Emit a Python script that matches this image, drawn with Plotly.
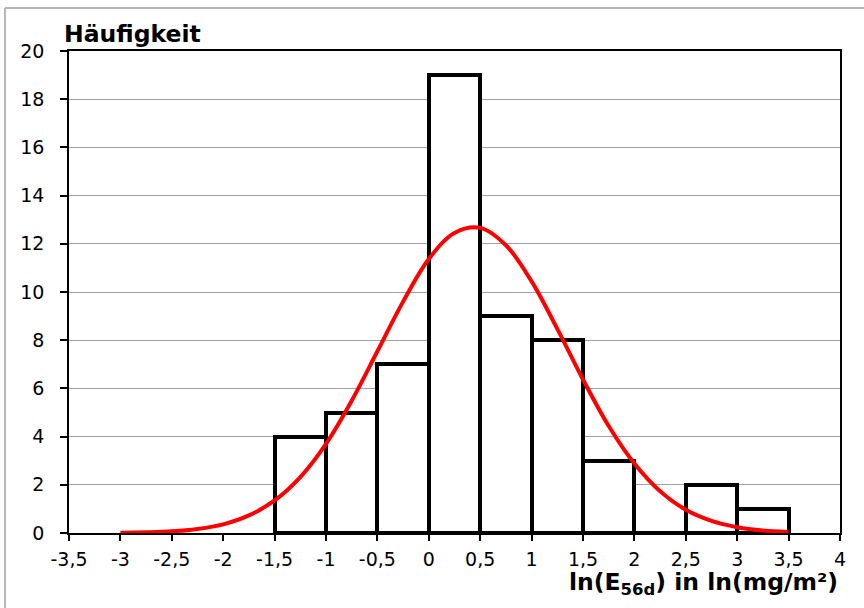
import plotly.graph_objects as go

# Histogram data
bin_centers = [-1.25, -0.75, -0.25, 0.25, 0.75, 1.25, 1.75, 2.25, 2.75, 3.25]
counts = [4, 5, 7, 19, 9, 8, 3, 0, 2, 1]
bin_width = 0.5

# Fitted normal curve
curve_x = [-3, -2.75, -2.5, -2.25, -2, -1.75, -1.5, -1.25, -1, -0.75, -0.5, -0.25,
           0, 0.25, 0.5, 0.75, 1, 1.25, 1.5, 1.75, 2, 2.25, 2.5, 2.75, 3, 3.25, 3.5]
curve_y = [0.01, 0.03, 0.07, 0.17, 0.36, 0.73, 1.35, 2.32, 3.7, 5.49, 7.54, 9.6,
           11.37, 12.45, 12.66, 11.94, 10.44, 8.47, 6.37, 4.44, 2.88, 1.73, 0.96, 0.5, 0.24, 0.1, 0.04]

x_tickvals = [-3.5, -3, -2.5, -2, -1.5, -1, -0.5, 0, 0.5, 1, 1.5, 2, 2.5, 3, 3.5, 4]
x_ticktext = ["-3,5", "-3", "-2,5", "-2", "-1,5", "-1", "-0,5", "0", "0,5", "1",
              "1,5", "2", "2,5", "3", "3,5", "4"]
y_tickvals = [0, 2, 4, 6, 8, 10, 12, 14, 16, 18, 20]

font_family = "DejaVu Sans, Arial, sans-serif"

fig = go.Figure()
fig.add_trace(go.Bar(
    x=bin_centers, y=counts, width=[bin_width] * len(counts),
    marker=dict(color="white", line=dict(color="black", width=4)),
    showlegend=False, hoverinfo="x+y",
))
fig.add_trace(go.Scatter(
    x=curve_x, y=curve_y, mode="lines",
    line=dict(color="#ff0000", width=4, shape="spline", smoothing=1),
    showlegend=False,
))

border = dict(color="#a0a0a0", width=1.5)

fig.update_layout(
    width=864, height=608,
    margin=dict(l=69, r=24, t=51, b=75),
    paper_bgcolor="white", plot_bgcolor="white",
    font=dict(family=font_family, size=19, color="black"),
    bargap=0,
    xaxis=dict(
        range=[-3.5, 4], tickvals=x_tickvals, ticktext=x_ticktext,
        showgrid=False, zeroline=False,
        showline=True, linecolor="black", linewidth=1.5, mirror=True,
        ticks="outside", ticklen=6, tickcolor="black", tickwidth=1.5,
        tickfont=dict(size=19), ticklabelstandoff=2,
    ),
    yaxis=dict(
        range=[0, 20], tickvals=y_tickvals,
        showgrid=True, gridcolor="#a0a0a0", gridwidth=1.2, zeroline=False,
        showline=True, linecolor="black", linewidth=1.5, mirror=True,
        ticks="outside", ticklen=7, tickcolor="black", tickwidth=1.5,
        tickfont=dict(size=19), ticklabelstandoff=12,
    ),
    annotations=[
        dict(text="<b>Häufigkeit</b>", xref="paper", yref="paper",
             x=-0.009, y=1, xanchor="left", yanchor="bottom", yshift=1,
             showarrow=False, font=dict(size=23.5, family=font_family)),
        dict(text="<b>ln(E<sub>56d</sub>) in ln(mg/m²)</b>", xref="paper", yref="paper",
             x=1, y=0, xanchor="right", yanchor="top", yshift=-33, xshift=0,
             showarrow=False, font=dict(size=23.5, family=font_family)),
    ],
    shapes=[
        dict(type="line", xref="paper", yref="paper",
             x0=-0.083, x1=1.04, y0=1.089, y1=1.089, line=border, layer="below"),
        dict(type="line", xref="paper", yref="paper",
             x0=-0.083, x1=-0.083, y0=-0.2, y1=1.089, line=border, layer="below"),
    ],
)

fig.write_html("out.html", config={"displayModeBar": False},
               post_script="document.body.style.margin='0';document.body.style.overflow='hidden';")
